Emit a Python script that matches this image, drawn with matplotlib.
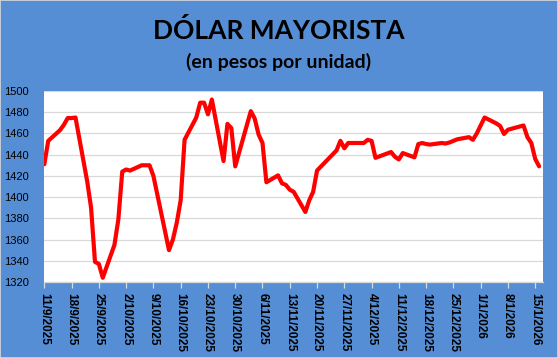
import matplotlib
matplotlib.use("Agg")
import matplotlib.pyplot as plt
from matplotlib.patches import Rectangle
import pandas as pd

# ---- data ----
dates = [
    "2025-09-11", "2025-09-12", "2025-09-15", "2025-09-16", "2025-09-17", "2025-09-18", "2025-09-19",
    "2025-09-22", "2025-09-23", "2025-09-24", "2025-09-25", "2025-09-26",
    "2025-09-29", "2025-09-30", "2025-10-01", "2025-10-02", "2025-10-03",
    "2025-10-06", "2025-10-07", "2025-10-08", "2025-10-09",
    "2025-10-13", "2025-10-14", "2025-10-15", "2025-10-16", "2025-10-17",
    "2025-10-20", "2025-10-21", "2025-10-22", "2025-10-23", "2025-10-24",
    "2025-10-27", "2025-10-28", "2025-10-29", "2025-10-30", "2025-10-31",
    "2025-11-03", "2025-11-04", "2025-11-05", "2025-11-06", "2025-11-07",
    "2025-11-10", "2025-11-11", "2025-11-12", "2025-11-13", "2025-11-14",
    "2025-11-17", "2025-11-18", "2025-11-19", "2025-11-20",
    "2025-11-25", "2025-11-26", "2025-11-27", "2025-11-28",
    "2025-12-01", "2025-12-02", "2025-12-03", "2025-12-04", "2025-12-05",
    "2025-12-09", "2025-12-10", "2025-12-11", "2025-12-12",
    "2025-12-15", "2025-12-16", "2025-12-17", "2025-12-18", "2025-12-19",
    "2025-12-22", "2025-12-23", "2025-12-24", "2025-12-26",
    "2025-12-29", "2025-12-30", "2025-12-31", "2026-01-02",
    "2026-01-05", "2026-01-06", "2026-01-07", "2026-01-08", "2026-01-09",
    "2026-01-12", "2026-01-13", "2026-01-14", "2026-01-15", "2026-01-16",
]
values = [
    1431, 1453, 1463, 1468, 1474.5, 1474.5, 1475,
    1415, 1390, 1339, 1337, 1324,
    1355, 1379, 1424, 1426, 1425,
    1430, 1430, 1430, 1420,
    1350, 1360, 1376, 1397, 1454,
    1475, 1489, 1489, 1478, 1492,
    1434, 1469, 1465, 1429, 1442,
    1481, 1474, 1459, 1451, 1414,
    1420.5, 1413, 1411.5, 1407, 1405,
    1386, 1397, 1405, 1425,
    1444, 1453, 1446, 1451,
    1451, 1451, 1454, 1453, 1437,
    1442.5, 1438, 1435.5, 1441.5,
    1437.5, 1450, 1451, 1450, 1449.5,
    1451, 1450.5, 1451.5, 1454.5,
    1456.5, 1454, 1460, 1475,
    1469.5, 1467, 1459.5, 1463.5, 1464.5,
    1467.5, 1456.5, 1451, 1436, 1429,
]
tick_dates = [
    "2025-09-11", "2025-09-18", "2025-09-25", "2025-10-02", "2025-10-09", "2025-10-16",
    "2025-10-23", "2025-10-30", "2025-11-06", "2025-11-13", "2025-11-20", "2025-11-27",
    "2025-12-04", "2025-12-11", "2025-12-18", "2025-12-25", "2026-01-01", "2026-01-08",
    "2026-01-15",
]
tick_labels = [
    "11/9/2025", "18/9/2025", "25/9/2025", "2/10/2025", "9/10/2025", "16/10/2025",
    "23/10/2025", "30/10/2025", "6/11/2025", "13/11/2025", "20/11/2025", "27/11/2025",
    "4/12/2025", "11/12/2025", "18/12/2025", "25/12/2025", "1/1/2026", "8/1/2026",
    "15/1/2026",
]
y_ticks = [1320, 1340, 1360, 1380, 1400, 1420, 1440, 1460, 1480, 1500]
title = "DÓLAR MAYORISTA"
subtitle = "(en pesos por unidad)"

# ---- figure ----
BLUE = "#558ED5"
GRID = "#D9D9D9"

fig = plt.figure(figsize=(5.58, 3.58), dpi=100, facecolor=BLUE)
ax = fig.add_axes([44 / 558, 1 - 282 / 358, (543 - 44) / 558, (282 - 91) / 358])
ax.set_facecolor("white")

x = pd.to_datetime(dates)
ax.plot(x, values, color="#FF0000", linewidth=3.0, solid_joinstyle="round",
        solid_capstyle="round", zorder=3, clip_on=True)

ax.set_ylim(1320, 1500)
ax.set_yticks(y_ticks)
ax.set_yticklabels([str(v) for v in y_ticks], family="Liberation Sans", fontsize=8, color="black")
ax.yaxis.grid(True, color=GRID, linewidth=0.9)
ax.tick_params(axis="y", length=0, pad=11)

xt = pd.to_datetime(tick_dates)
ax.set_xlim(pd.Timestamp("2025-09-11") - pd.Timedelta(hours=2), pd.Timestamp("2026-01-17"))
ax.set_xticks(xt)
ax.set_xticklabels(tick_labels, rotation=270, family="Liberation Sans", fontweight="bold",
                   fontsize=8.5, color="black", ha="center", va="top")
ax.tick_params(axis="x", direction="out", length=4, width=0.9, color=GRID, pad=4)

for s in ["left", "top", "right"]:
    ax.spines[s].set_visible(False)
ax.spines["bottom"].set_color(GRID)
ax.spines["bottom"].set_linewidth(0.9)

fig.text(0.5, 1 - 30.5 / 358, title, ha="center", va="center", family="Lato",
         fontweight="bold", fontsize=19, color="black")
fig.text(0.5, 1 - 62 / 358, subtitle, ha="center", va="center", family="Lato",
         fontweight="bold", fontsize=14, color="black")

fig.patches.append(Rectangle((0, 0), 1, 1, transform=fig.transFigure, fill=False,
                             edgecolor=GRID, linewidth=1.2))

fig.savefig("out.png", dpi=100, facecolor=BLUE)
